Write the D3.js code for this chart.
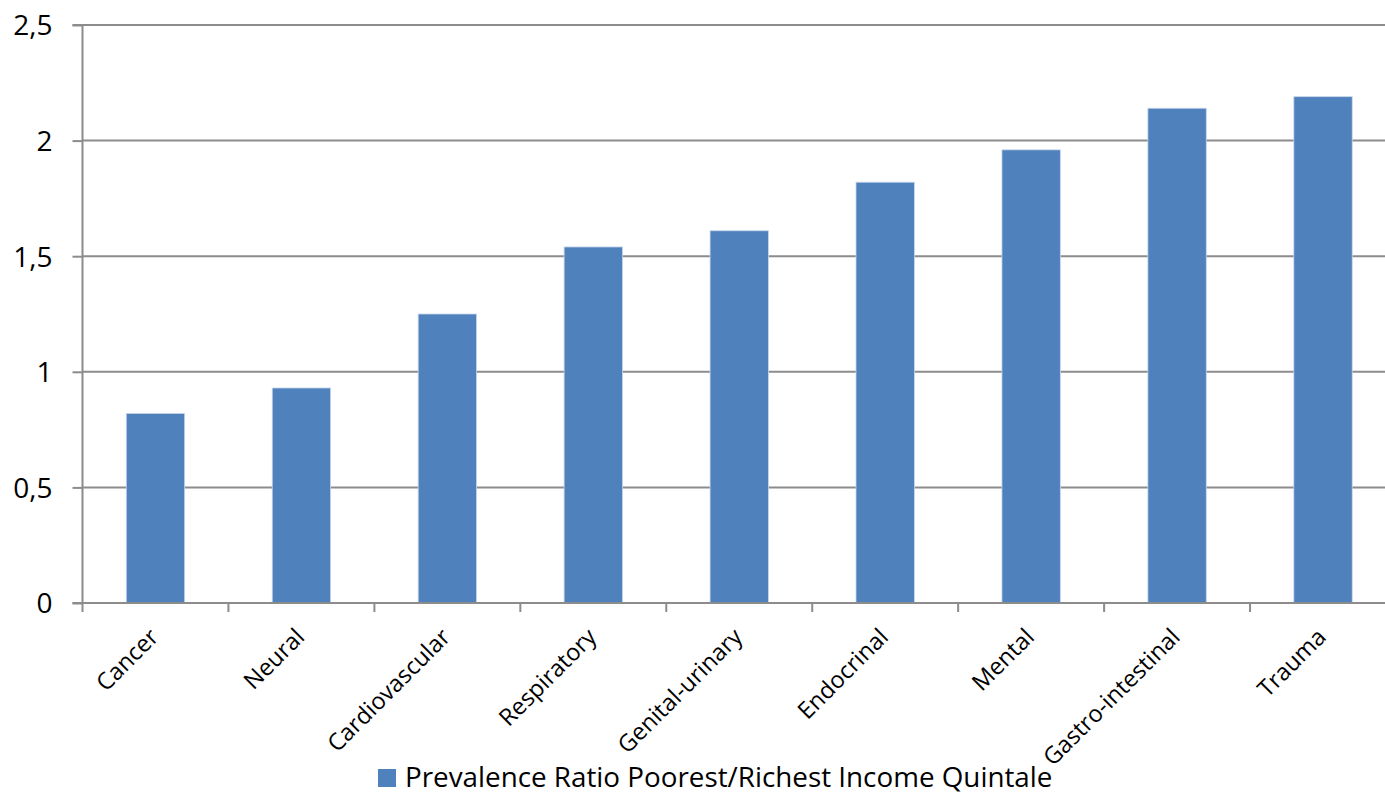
<!DOCTYPE html>
<html><head><meta charset="utf-8">
<script src="https://cdn.jsdelivr.net/npm/d3@7"></script>
<style>body{margin:0;background:#fff;}svg{display:block;}</style>
</head><body>
<svg id="c" width="1385" height="795"></svg>
<script>
const categories = ["Cancer","Neural","Cardiovascular","Respiratory","Genital-urinary","Endocrinal","Mental","Gastro-intestinal","Trauma"];
const values = [0.82,0.93,1.25,1.54,1.61,1.82,1.96,2.14,2.19];
const yTicks = [0,0.5,1,1.5,2,2.5];
const tickLabels = ["0","0,5","1","1,5","2","2,5"];
const seriesName = "Prevalence Ratio Poorest/Richest Income Quintale";

(function(){
const font = "'Open Sans', 'Noto Sans', sans-serif";
const svg = d3.select("#c");
const L = 82.5, R = 1396, T = 25, B = 603;
const x = d3.scaleBand().domain(categories).range([L, R]).padding(0);
const y = d3.scaleLinear().domain([0, 2.5]).range([B, T]);
const grid = "#8c8c8c";

// gridlines
svg.append("g").selectAll("line").data(yTicks.slice(1)).join("line")
  .attr("x1", L).attr("x2", R).attr("y1", d => y(d)).attr("y2", d => y(d))
  .attr("stroke", grid).attr("stroke-width", 2);

// bars
const bw = x.bandwidth();
svg.append("g").selectAll("rect").data(values).join("rect")
  .attr("x", (d,i) => x(categories[i]) + bw*0.3)
  .attr("width", bw*0.4)
  .attr("y", d => y(d)).attr("height", d => y(0) - y(d))
  .attr("fill", "#4F81BD").attr("stroke", "#c8d6ea").attr("stroke-width", 0.8);

// y axis
const yAxis = d3.axisLeft(y).tickValues(yTicks).tickSize(10).tickPadding(20)
  .tickFormat((d,i) => tickLabels[i]);
const gy = svg.append("g").attr("transform", `translate(${L},0)`).call(yAxis);
gy.select(".domain").attr("stroke", grid).attr("stroke-width", 2).attr("d", `M-10,${T}H0V${B}H-10`);
gy.selectAll(".tick line").attr("stroke", grid).attr("stroke-width", 2);
gy.selectAll("text").attr("font-family", font).attr("font-size", 28).attr("fill", "#000").attr("dy", "0.35em");

// x axis
const xAxis = d3.axisBottom(x).tickSize(0).tickFormat("");
const gx = svg.append("g").attr("transform", `translate(0,${B})`).call(xAxis);
gx.select(".domain").attr("stroke", grid).attr("stroke-width", 2).attr("d", `M${L},0H${R}`);
gx.selectAll(".tick").remove();
const bounds = categories.map(c => x(c)).concat([R]);
gx.selectAll("line.tk").data(bounds).join("line").attr("class","tk")
  .attr("x1", d => d).attr("x2", d => d).attr("y1", 0).attr("y2", 9)
  .attr("stroke", grid).attr("stroke-width", 2);

svg.append("g").selectAll("text").data(categories).join("text")
  .attr("transform", d => `translate(${x(d) + bw/2 - 8},${B + 23}) rotate(-45)`)
  .attr("text-anchor", "end").attr("dy", "0.75em")
  .attr("font-family", font).attr("font-size", 23.5).attr("fill", "#000")
  .text(d => d);

// legend
const lg = svg.append("g");
lg.append("rect").attr("x", 378).attr("y", 769).attr("width", 18).attr("height", 18).attr("fill", "#4F81BD");
lg.append("text").attr("x", 405).attr("y", 787).attr("font-family", font).attr("font-size", 27.8)
  .attr("fill", "#000").text(seriesName);
})();
</script>
</body></html>
